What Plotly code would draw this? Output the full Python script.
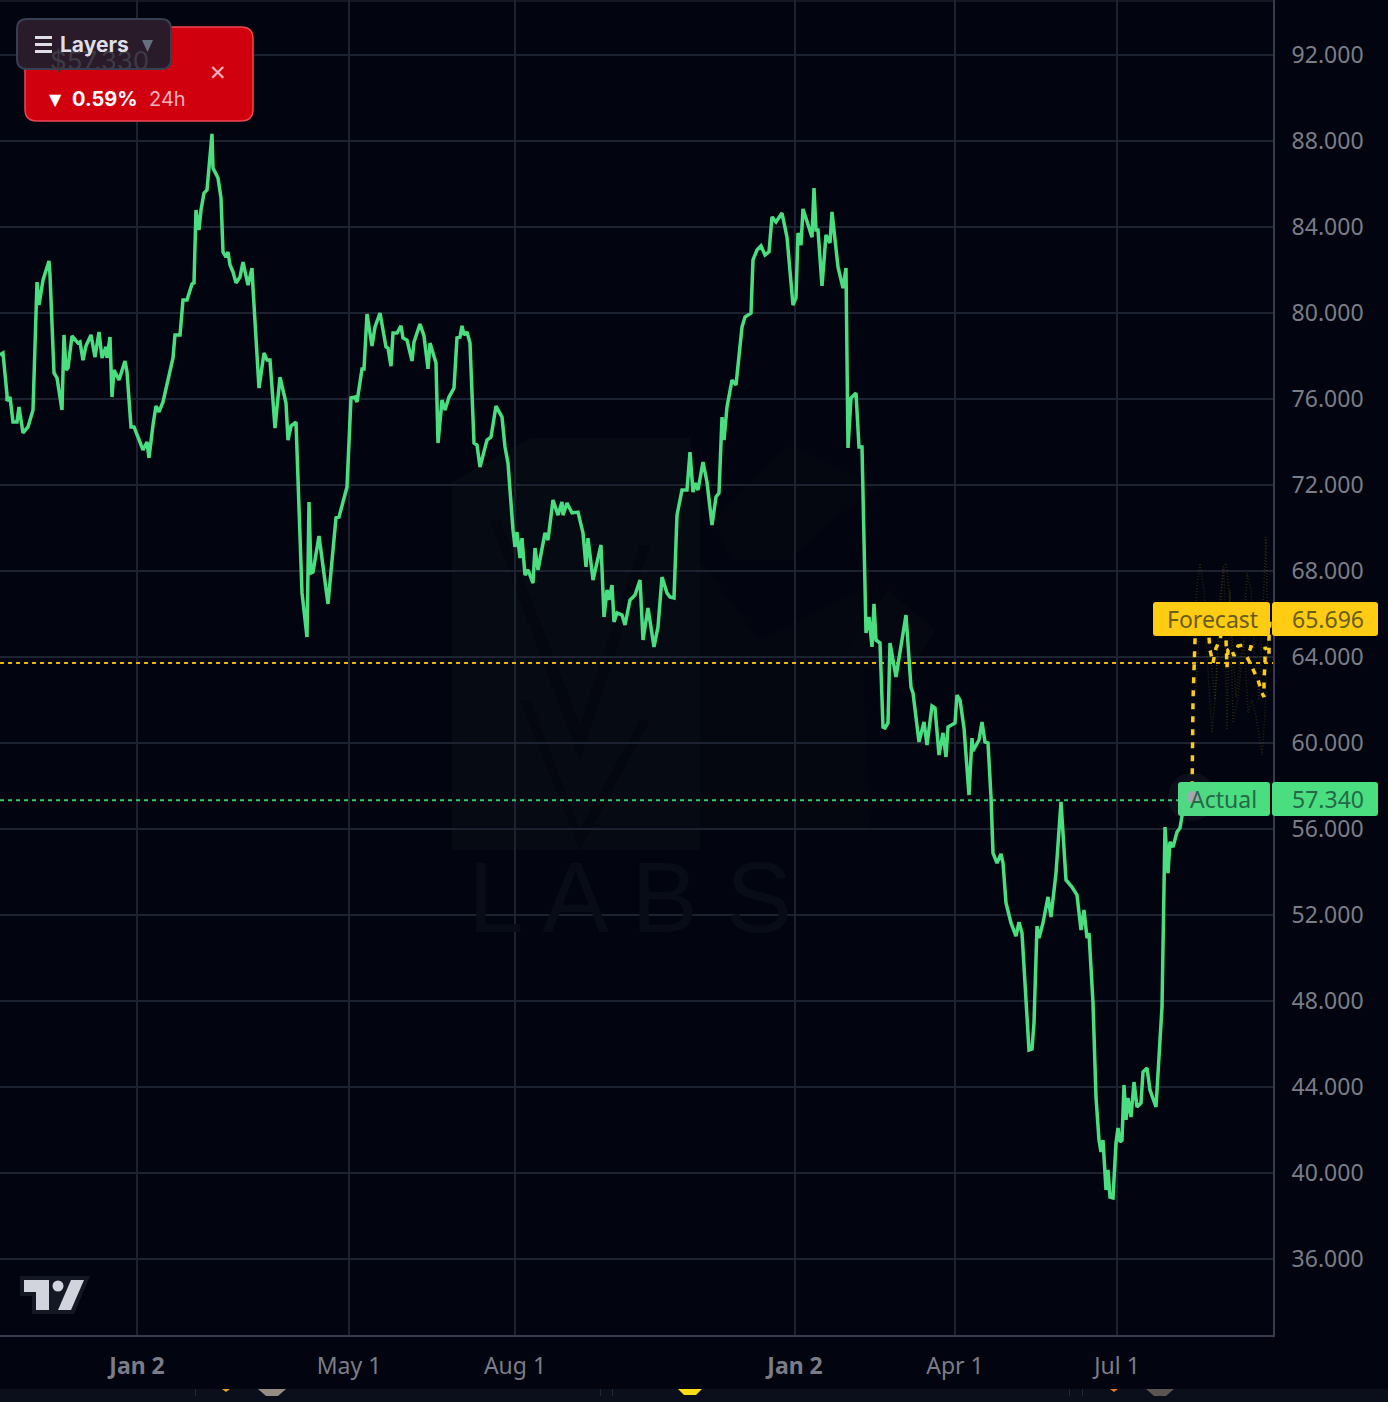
import plotly.graph_objects as go

# ---------- data ----------
bars = [0,3,7,7,10,13,17,19,23,28,33,37,39,43,49,50,54,57,62,64,66,68,72,78,80,83,86,91,95,99,102,106,107,110,112,114,119,125,127,131,134,138,143,147,149,153,156,159,163,173,175,180,183,187,192,194,196,199,201,204,207,212,213,218,221,223,226,228,230,233,236,240,243,248,252,253,255,259,264,
267,270,275,280,286,288,291,296,302,307,309,311,313,319,328,336,339,347,351,355,357,362,364,367,372,375,380,386,388,391,393,397,401,403,407,412,414,420,424,428,430,433,436,438,442,445,449,454,457,460,462,464,467,470,474,477,480,487,491,496,502,505,508,513,515,517,520,522,525,528,533,535,538,545,548,553,558,562,563,567,572,578,583,586,588,593,601,604,607,609,612,614,617,622,625,630,635,640,643,648,654,658,662,667,670,674,677,682,687,690,693,695,698,703,707,712,716,719,722,724,727,732,736,742,745,751,753,757,761,765,769,772,776,782,787,793,796,798,801,803,807,812,814,816,818,822,826,830,832,838,843,846,848,851,856,859,862,865,866,869,872,874,876,880,883,885,888,890,896,906,911,913,919,924,927,932,935,939,943,946,948,955,957,960,964,969,972,973,979,982,985,988,991,993,997,1001,1003,1006,1011,1016,1019,1022,1029,1032,1034,1037,1039,1043,1048,1051,1056,1061,1066,1072,1077,1081,1084,1087,1089,1093,1096,1099,1101,1103,1106,1108,1110,1113,1116,1118,1120,1122,1124,1126,1128,1131,1134,1137,1141,1143,1147,1150,1156,1162,1163,1165,1168,1170,1173,1177,1180,1183,1192]
price = [78.05,78.14,76.19,75.91,76.09,74.93,74.93,75.63,74.42,74.70,75.49,81.44,80.37,81.53,82.42,81.77,77.21,76.98,75.49,78.98,77.35,77.44,78.93,78.60,78.65,77.81,78.47,78.98,77.95,79.12,77.91,78.42,77.91,78.88,76.09,77.35,76.88,77.77,77.26,74.70,74.70,74.23,73.63,74.00,73.26,74.79,75.67,75.40,75.86,77.91,78.98,78.98,80.60,80.60,81.35,81.40,84.79,83.86,84.79,85.58,85.72,88.33,86.74,86.28,85.35,82.84,82.60,82.84,82.23,81.91,81.40,81.67,82.37,81.30,82.09,81.16,79.44,76.51,78.14,
77.81,77.81,74.65,77.02,75.81,74.09,74.74,74.93,66.98,64.93,71.21,67.91,67.95,69.63,66.47,70.47,70.51,71.91,76.05,76.09,75.86,77.40,77.40,79.95,78.47,79.35,80.00,78.42,78.37,77.53,79.07,79.07,79.40,78.84,78.74,77.77,78.65,79.49,78.93,77.40,78.60,78.14,77.67,73.95,75.95,75.49,76.09,76.51,78.84,78.88,79.40,78.98,79.12,78.60,73.95,73.86,72.84,74.09,74.23,75.67,75.16,73.77,73.02,69.91,69.12,69.81,68.60,69.53,67.81,68.05,67.44,69.07,68.05,69.77,69.44,71.30,70.60,71.21,70.60,71.16,70.70,70.74,69.77,68.19,69.53,67.58,69.21,65.86,67.12,66.65,67.35,65.63,66.05,65.95,65.49,66.65,66.88,67.58,64.79,66.28,64.47,65.40,67.72,66.98,66.79,66.74,70.60,71.77,71.77,73.53,71.67,72.09,71.77,73.07,72.14,70.14,71.44,71.63,75.16,74.09,75.63,76.88,76.65,79.35,79.81,80.00,82.47,82.93,83.12,82.70,82.84,84.47,84.23,84.65,83.53,80.37,80.70,83.72,83.16,84.84,84.23,83.53,85.81,83.86,83.86,81.26,83.63,83.26,84.70,82.14,81.16,82.09,73.72,76.05,76.28,73.77,73.77,67.58,65.12,65.86,64.47,66.47,64.79,64.65,60.74,60.70,60.93,64.65,63.07,65.95,62.60,62.33,60.05,60.98,59.91,61.72,61.63,59.44,60.47,59.35,60.74,60.93,62.23,62.00,60.70,57.58,60.23,59.63,60.14,60.98,60.05,60.00,57.49,54.88,54.42,54.84,54.42,52.56,51.63,51.02,51.67,51.16,45.72,45.77,46.98,51.49,50.93,51.63,52.84,51.91,53.95,57.26,53.63,53.30,52.93,51.30,52.23,50.93,51.16,47.91,43.53,41.53,40.98,41.53,39.21,40.14,38.88,38.84,41.40,42.09,41.44,41.53,44.09,42.47,43.49,42.60,44.23,43.07,43.26,44.70,44.88,43.86,43.07,47.72,51.63,56.09,53.95,55.40,55.16,55.86,56.05,56.88,57.34]

forecast_bars = [1192,1193,1195,1196,1203,1208,1210,1213,1216,1220,1224,1226,1227,1228,1231,1234,1238,1243,1251,1247,1250,1256,1258,1262,1264,1264,1265,1265,1269,1269,1270]
forecast = [57.34,62.00,64.79,65.72,66.19,65.49,64.33,63.72,64.42,64.79,65.72,64.79,63.53,64.33,64.42,64.05,64.51,64.56,64.47,64.00,63.72,63.07,62.93,62.33,62.14,62.93,63.72,64.47,64.09,64.88,65.696]

ens1_bars = [1195,1197,1200,1204,1206,1209,1212,1215,1219,1223,1226,1229,1232,1236,1240,1244,1248,1252,1256,1260,1262,1265,1268]
ens1 = [64.79,67.35,68.37,67.12,64.79,62.47,60.47,62.00,64.79,68.19,68.37,67.12,64.79,62.14,63.86,64.79,61.40,62.00,61.21,60.14,59.44,61.40,64.79]
ens2_bars = [1196,1200,1205,1210,1215,1220,1224,1227,1230,1233,1238,1243,1247,1251,1255,1259,1263,1266,1268]
ens2 = [62.47,65.72,66.65,64.33,62.00,66.79,68.19,60.60,67.12,60.93,62.14,64.33,67.91,67.12,63.86,62.00,66.65,69.58,63.86]

actual_level = 57.34
forecast_level = 63.72
forecast_last = 65.696

y_ticks = [36, 40, 44, 48, 52, 56, 60, 64, 68, 72, 76, 80, 84, 88, 92]
x_tick_bars = [137, 349, 515, 795, 955, 1117]
x_tick_text = ["<b>Jan 2</b>", "May 1", "Aug 1", "<b>Jan 2</b>", "Apr 1", "Jul 1"]

# ---------- style / frame ----------
W, H = 1388, 1402
PW, PH = 1273, 1335          # plot area size in px
BG = "rgb(2,5,15)"
GRID = "rgb(29,34,48)"
AXIS = "rgb(54,60,78)"
TICK = "rgb(122,125,136)"
GREEN = "#4ADE80"
YELLOW = "#FFCC14"
FONT = "Noto Sans"
UI = "Inter"


def px(x):
    return x / PW


def py(y):
    return 1 - y / PH


def rrect(x0, y0, x1, y1, r):
    a, b, c, d = px(x0), py(y0), px(x1), py(y1)
    rx, ry = r / PW, r / PH
    return (f"M{a+rx},{b} L{c-rx},{b} Q{c},{b} {c},{b-ry} L{c},{d+ry} Q{c},{d} {c-rx},{d} "
            f"L{a+rx},{d} Q{a},{d} {a},{d+ry} L{a},{b-ry} Q{a},{b} {a+rx},{b} Z")


def poly(points):
    return "M" + " L".join(f"{px(x)},{py(y)}" for x, y in points) + " Z"


shapes = []


def add_path(path, fill, line=None, lw=0, layer="above"):
    shapes.append(dict(type="path", xref="paper", yref="paper", path=path, fillcolor=fill,
                       line=dict(color=line or "rgba(0,0,0,0)", width=lw), layer=layer))


def add_rect(x0, y0, x1, y1, fill, layer="above"):
    shapes.append(dict(type="rect", xref="paper", yref="paper", x0=px(x0), x1=px(x1), y0=py(y0), y1=py(y1),
                       fillcolor=fill, line=dict(width=0), layer=layer))


def add_circle(cx, cy, r, fill, layer="above"):
    shapes.append(dict(type="circle", xref="paper", yref="paper", x0=px(cx - r), x1=px(cx + r),
                       y0=py(cy + r), y1=py(cy - r), fillcolor=fill, line=dict(width=0), layer=layer))


annots = []


def note(x, y, text, size, color, anchor="center", family=FONT):
    annots.append(dict(xref="paper", yref="paper", x=px(x), y=py(y), text=text, showarrow=False,
                       xanchor=anchor, yanchor="middle", font=dict(size=size, color=color, family=family)))


# watermark (very faint, below the grid)
WM = "rgb(6,10,19)"
WD = "rgb(4,7,16)"
add_path(poly([(452, 482), (530, 438), (690, 438), (700, 500), (700, 850), (452, 850)]), WM, layer="below")
add_path(poly([(700, 560), (760, 640), (860, 590), (870, 830), (700, 830)]), "rgb(4,7,16)", layer="below")
add_path(poly([(715, 520), (790, 445), (880, 490), (830, 520), (790, 560), (730, 560)]), "rgb(4,7,16)", layer="below")
add_path(poly([(840, 660), (888, 590), (935, 630), (905, 680)]), "rgb(5,8,17)", layer="below")
add_path(poly([(490, 520), (500, 520), (580, 725), (640, 545), (650, 545), (580, 760)]), WD, layer="below")
add_path(poly([(520, 700), (530, 700), (580, 830), (640, 720), (650, 720), (580, 850)]), WD, layer="below")
note(630, 897, "L A B S", 100, "rgb(8,12,22)", "center", "Liberation Sans")
add_rect(0, 0, PW, 2, "rgb(20,24,36)", layer="below")

# TradingView logo
add_path(poly([(20, 1276), (90, 1276), (74, 1314), (32, 1314), (32, 1296), (20, 1296)]), "rgb(19,24,36)")
add_path(poly([(24, 1280), (49, 1280), (49, 1310), (36, 1310), (36, 1292), (24, 1292)]), "rgb(209,212,220)")
add_circle(58, 1286, 5.5, "rgb(209,212,220)")
add_path(poly([(71, 1280), (84, 1280), (71, 1310), (58, 1310)]), "rgb(209,212,220)")

# price tags
add_path(rrect(1153, 602, 1270, 636, 3), YELLOW)
add_path(rrect(1272, 602, 1378, 636, 3), YELLOW)
add_path(rrect(1178, 782, 1270, 816, 3), GREEN)
add_path(rrect(1272, 782, 1378, 816, 3), GREEN)
add_circle(1192, 797, 24, "rgba(150,155,170,0.07)")
note(1212, 619, "Forecast", 23, "rgb(105,92,28)")
note(1328, 619, f"{forecast_last:.3f}", 23, "rgb(105,92,28)")
note(1223, 799, "Actual", 23, "rgb(36,105,72)")
note(1328, 799, f"{actual_level:.3f}", 23, "rgb(36,105,72)")
add_circle(1193, 797, 6, "rgb(165,168,180)")

# red alert card and Layers button
add_path(rrect(25, 27, 253, 121, 12), "rgb(208,0,15)", "rgb(240,70,85)", 1.5)
note(70, 99, "<b>0.59%</b>", 20, "#ffffff", "left", UI)
note(47, 99, "▼", 16, "#ffffff", "left", "DejaVu Sans")
note(147, 99, "24h", 20, "rgb(246,178,185)", "left", UI)
note(218, 73, "✕", 21, "rgb(246,178,185)", "center", "DejaVu Sans")
add_path(rrect(17, 19, 171, 69, 10), "rgb(42,27,42)", "rgb(55,62,82)", 2)
note(48, 61, "$57.330", 26, "rgb(62,58,70)", "left", UI)
note(58, 44, "<b>Layers</b>", 21, "rgb(222,222,228)", "left", UI)
add_rect(35, 36, 52, 39, "rgb(222,222,228)")
add_rect(35, 43, 52, 46, "rgb(222,222,228)")
add_rect(35, 50, 52, 53, "rgb(222,222,228)")
add_path(poly([(142, 40), (153, 40), (147.5, 52)]), "rgb(104,112,128)")

# page strip below the chart
add_rect(0, 1389, W, H, "rgb(10,15,27)")
for x in (195, 600, 612, 1069, 1082):
    add_rect(x, 1389, x + 1, 1396, "rgb(32,40,56)")
add_path(poly([(222, 1389), (230, 1389), (226, 1392)]), "rgb(240,160,20)")
add_path(poly([(258, 1389), (286, 1389), (278, 1396), (266, 1396)]), "rgb(150,140,130)")
add_path(poly([(678, 1389), (702, 1389), (696, 1395), (684, 1395)]), "rgb(250,220,20)")
add_path(poly([(1110, 1389), (1118, 1389), (1114, 1392)]), "rgb(240,120,30)")
add_path(poly([(1146, 1389), (1174, 1389), (1166, 1396), (1154, 1396)]), "rgb(90,85,80)")

fig = go.Figure()
for xs, ys in ((ens1_bars, ens1), (ens2_bars, ens2)):
    fig.add_trace(go.Scatter(x=xs, y=ys, mode="lines", hoverinfo="skip",
                             line=dict(color="rgba(250,204,21,0.16)", width=1.5, dash="1px,2px")))
fig.add_trace(go.Scatter(x=[0, PW], y=[forecast_level] * 2, mode="lines", hoverinfo="skip",
                         line=dict(color="#EAB308", width=2, dash="4px,4px")))
fig.add_trace(go.Scatter(x=[0, PW], y=[actual_level] * 2, mode="lines", hoverinfo="skip",
                         line=dict(color="#34C872", width=2, dash="4px,4px")))
fig.add_trace(go.Scatter(x=bars, y=price, mode="lines", hoverinfo="skip",
                         line=dict(color=GREEN, width=3.5)))
fig.add_trace(go.Scatter(x=forecast_bars, y=forecast, mode="lines", hoverinfo="skip",
                         line=dict(color="#FACC15", width=3.5, dash="6px,7px")))

# y scale: 92 sits 55 px down and 36 at 1259 px, so the range follows from those ticks
fig.update_layout(
    width=W, height=H, showlegend=False,
    paper_bgcolor=BG, plot_bgcolor="rgba(0,0,0,0)",
    margin=dict(l=0, r=W - PW, t=0, b=H - PH, pad=0),
    shapes=shapes, annotations=annots,
    xaxis=dict(range=[0, PW], tickmode="array", tickvals=x_tick_bars, ticktext=x_tick_text,
               showgrid=True, gridcolor=GRID, gridwidth=2, zeroline=False,
               showline=True, linecolor=AXIS, linewidth=2, ticks="outside", ticklen=9,
               tickcolor="rgba(0,0,0,0)", tickfont=dict(size=23, color=TICK, family=FONT)),
    yaxis=dict(range=[92 - (PH - 55) / 21.5, 92 + 55 / 21.5], side="right", tickmode="array", tickvals=y_ticks,
               tickformat=".3f", showgrid=True, gridcolor=GRID, gridwidth=2, zeroline=False,
               showline=True, linecolor=AXIS, linewidth=2, ticks="outside", ticklen=12,
               tickcolor="rgba(0,0,0,0)", tickfont=dict(size=23, color=TICK, family=FONT)),
)

fig.write_html("out.html", config=dict(displayModeBar=False),
               post_script="document.body.style.margin='0';document.body.style.overflow='hidden';"
                           "document.documentElement.style.background='rgb(2,5,15)';")
